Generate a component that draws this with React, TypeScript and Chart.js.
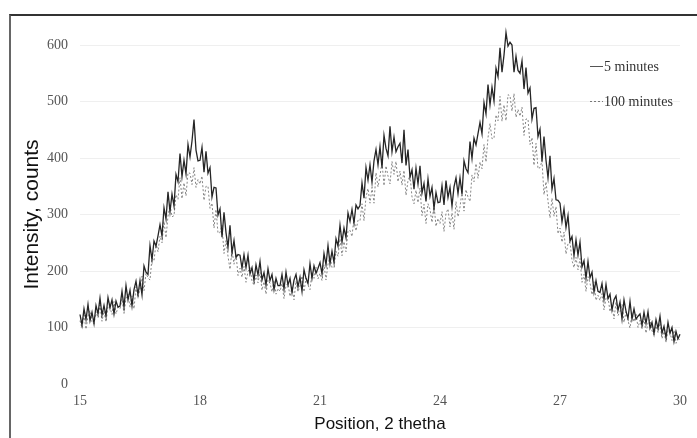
import React, { useEffect, useRef } from "react";
import { Chart, registerables } from "chart.js";

Chart.register(...registerables);

// 2-theta sampling grid
const X_START = 15;
const X_STEP = 0.05;

const X_TICKS = [15, 18, 21, 24, 27, 30];
const Y_TICKS = [0, 100, 200, 300, 400, 500, 600];

const SERIES_NAMES = ["5 minutes", "100 minutes"];

// 5 minutes (solid), one row per degree
const min5 = [
  123, 104, 133, 114, 141, 112, 127, 107, 139, 124, 152, 122, 139, 120, 153, 135, 149, 124, 147, 136,
  138, 164, 136, 174, 149, 166, 138, 167, 182, 158, 183, 158, 209, 198, 194, 245, 220, 253, 244, 262,
  282, 262, 312, 292, 340, 305, 336, 315, 371, 358, 408, 367, 396, 372, 424, 402, 430, 468, 414, 395,
  396, 419, 375, 412, 373, 383, 331, 348, 347, 299, 310, 260, 304, 268, 242, 281, 232, 254, 224, 229,
  228, 205, 229, 206, 228, 195, 206, 183, 211, 193, 217, 184, 197, 175, 204, 183, 194, 167, 187, 174,
  174, 194, 168, 198, 175, 187, 162, 184, 194, 172, 189, 164, 202, 187, 178, 213, 187, 209, 196, 205,
  215, 195, 231, 211, 245, 213, 235, 215, 257, 244, 281, 251, 276, 259, 303, 288, 309, 285, 317, 310,
  316, 356, 329, 383, 361, 388, 357, 395, 415, 388, 420, 383, 440, 417, 404, 456, 411, 437, 411, 420,
  426, 391, 450, 387, 415, 366, 379, 345, 382, 354, 386, 338, 355, 323, 363, 332, 348, 311, 339, 321,
  322, 351, 317, 360, 330, 348, 315, 349, 365, 337, 365, 336, 395, 381, 374, 429, 399, 435, 423, 443,
  463, 443, 498, 478, 530, 494, 525, 501, 559, 544, 595, 552, 582, 622, 598, 605, 600, 552, 580, 555,
  550, 572, 522, 560, 515, 524, 469, 488, 489, 438, 451, 394, 438, 396, 365, 404, 345, 364, 326, 325,
  320, 287, 310, 277, 298, 253, 261, 227, 255, 228, 251, 207, 218, 187, 217, 188, 198, 163, 183, 164,
  162, 178, 150, 176, 151, 159, 131, 149, 156, 130, 145, 115, 149, 129, 116, 146, 115, 133, 115, 120,
  124, 104, 127, 107, 128, 99, 109, 89, 114, 98, 120, 90, 102, 82, 109, 90, 100, 75, 93, 80,
  88,
];

// 100 minutes (dotted)
const min100 = [
  112, 99, 122, 97, 120, 130, 110, 106, 128, 117, 140, 111, 129, 110, 138, 135, 123, 146, 124, 136,
  133, 151, 125, 152, 159, 136, 156, 133, 172, 153, 168, 191, 165, 196, 188, 184, 223, 218, 249, 234,
  262, 250, 288, 259, 297, 317, 296, 298, 335, 327, 365, 328, 356, 333, 374, 373, 353, 383, 348, 362,
  354, 368, 325, 350, 350, 311, 320, 276, 309, 267, 268, 281, 231, 254, 226, 203, 237, 212, 231, 192,
  205, 189, 208, 180, 199, 206, 182, 175, 193, 179, 198, 166, 181, 159, 184, 178, 163, 184, 159, 169,
  164, 178, 151, 174, 178, 155, 171, 149, 182, 163, 174, 191, 163, 187, 175, 167, 198, 187, 207, 186,
  196, 183, 211, 184, 212, 227, 206, 206, 235, 226, 257, 227, 252, 234, 271, 272, 261, 294, 271, 290,
  289, 319, 289, 331, 346, 320, 348, 320, 374, 349, 368, 393, 351, 386, 368, 354, 394, 371, 394, 358,
  377, 352, 378, 334, 360, 369, 331, 319, 343, 321, 347, 298, 318, 284, 319, 309, 286, 317, 279, 293,
  284, 305, 270, 302, 310, 278, 303, 274, 323, 296, 313, 341, 306, 344, 331, 323, 370, 358, 390, 364,
  393, 381, 424, 393, 436, 461, 434, 435, 476, 466, 509, 465, 494, 466, 512, 510, 483, 514, 472, 486,
  474, 490, 440, 469, 469, 424, 436, 387, 426, 381, 383, 395, 335, 358, 324, 294, 329, 297, 314, 266,
  276, 251, 269, 230, 248, 251, 219, 206, 224, 202, 222, 180, 194, 164, 190, 179, 158, 181, 148, 157,
  148, 160, 131, 152, 154, 128, 141, 115, 145, 121, 128, 141, 109, 128, 112, 99, 126, 110, 125, 100,
  113, 98, 116, 90, 108, 114, 94, 87, 103, 91, 108, 80, 93, 74, 95, 90, 77, 95, 72, 81,
  78,
];

const toPoints = (vals: number[]) =>
  vals.map((y, i) => ({ x: +(X_START + i * X_STEP).toFixed(2), y }));

const legendPlugin = {
  id: "customLegend",
  afterDraw(chart: any) {
    const { ctx, chartArea } = chart;
    const entries = [
      { name: SERIES_NAMES[0], dash: [] as number[], color: "#555", dy: 21 },
      { name: SERIES_NAMES[1], dash: [2, 2], color: "#777", dy: 56 },
    ];
    ctx.save();
    ctx.font = "14px 'Liberation Serif', 'Times New Roman', serif";
    ctx.textBaseline = "middle";
    ctx.textAlign = "left";
    for (const e of entries) {
      const y = chartArea.top + e.dy;
      const x0 = chartArea.right - 90;
      ctx.beginPath();
      ctx.setLineDash(e.dash);
      ctx.strokeStyle = e.color;
      ctx.lineWidth = 1;
      ctx.moveTo(x0, y + 0.5);
      ctx.lineTo(x0 + 13, y + 0.5);
      ctx.stroke();
      ctx.setLineDash([]);
      ctx.fillStyle = "#333";
      ctx.fillText(e.name, x0 + 14, y + 1);
    }
    ctx.restore();
  },
};

export default function App() {
  const ref = useRef<HTMLCanvasElement | null>(null);

  useEffect(() => {
    if (!ref.current) return;
    const chart = new Chart(ref.current, {
      type: "line",
      data: {
        datasets: [
          {
            label: SERIES_NAMES[0],
            data: toPoints(min5),
            borderColor: "#252525",
            borderWidth: 1.3,
            pointRadius: 0,
            tension: 0,
            clip: false as any,
          },
          {
            label: SERIES_NAMES[1],
            data: toPoints(min100),
            borderColor: "#858585",
            borderWidth: 1,
            borderDash: [2, 2],
            pointRadius: 0,
            tension: 0,
            clip: false as any,
          },
        ],
      },
      options: {
        responsive: false,
        animation: false,
        events: [],
        layout: { padding: { top: 45, right: 17, left: 0, bottom: 0 } },
        plugins: {
          legend: { display: false },
          tooltip: { enabled: false },
        },
        scales: {
          x: {
            type: "linear",
            min: 15,
            max: 30,
            afterFit: (s: any) => {
              s.height = 54;
            },
            afterBuildTicks: (s: any) => {
              s.ticks = X_TICKS.map((v) => ({ value: v }));
            },
            grid: { display: false, drawTicks: false },
            border: { display: false },
            ticks: {
              padding: 9,
              color: "#555",
              font: { family: "'Liberation Serif', 'Times New Roman', serif", size: 14 },
              maxRotation: 0,
            },
            title: {
              display: true,
              text: "Position, 2 thetha",
              color: "#111",
              font: { family: "'Liberation Sans', Arial, sans-serif", size: 17 },
              padding: { top: 0, bottom: 3 },
            },
          },
          y: {
            type: "linear",
            min: 0,
            max: 600,
            afterFit: (s: any) => {
              s.width = 80;
            },
            afterBuildTicks: (s: any) => {
              s.ticks = Y_TICKS.map((v) => ({ value: v }));
            },
            grid: {
              drawTicks: false,
              color: (c: any) => (c.tick && c.tick.value === 0 ? "rgba(0,0,0,0)" : "#efefef"),
              lineWidth: 1,
            },
            border: { display: false },
            ticks: {
              padding: 12,
              color: "#555",
              font: { family: "'Liberation Serif', 'Times New Roman', serif", size: 14 },
            },
            title: {
              display: true,
              text: "Intensity, counts",
              color: "#111",
              font: { family: "'Liberation Sans', Arial, sans-serif", size: 21 },
              padding: { top: 20, bottom: 0 },
            },
          },
        },
      },
      plugins: [legendPlugin],
    });
    return () => chart.destroy();
  }, []);

  return (
    <div style={{ position: "fixed", left: 0, top: 0, width: 697, height: 438, background: "#fff", overflow: "hidden" }}>
      <div
        style={{
          position: "absolute",
          left: 9,
          top: 14,
          width: 720,
          height: 460,
          borderLeft: "2px solid #666",
          borderTop: "2px solid #333",
          boxSizing: "border-box",
        }}
      />
      <canvas ref={ref} width={697} height={438} style={{ position: "absolute", left: 0, top: 0 }} />
    </div>
  );
}
